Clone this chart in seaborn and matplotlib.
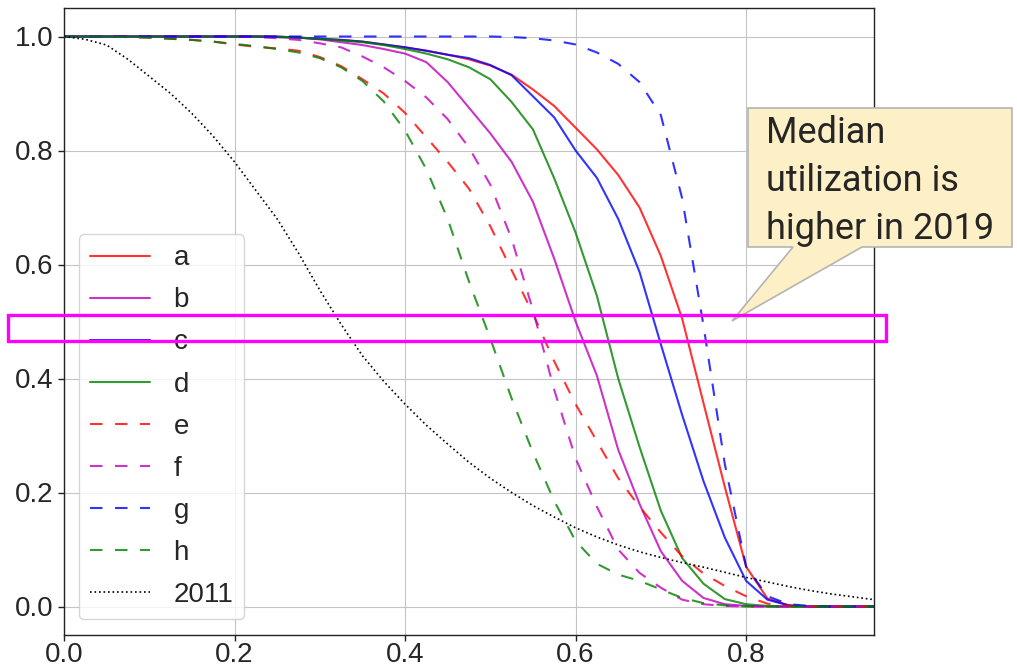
import numpy as np
import pandas as pd
import matplotlib
matplotlib.use("Agg")
import matplotlib.pyplot as plt
import seaborn as sns
from matplotlib.patches import Polygon, Rectangle

# utilization grid (x) and survival curves
util = [0.0, 0.025, 0.05, 0.075, 0.1, 0.125, 0.15, 0.175, 0.2, 0.225,
        0.25, 0.275, 0.3, 0.325, 0.35, 0.375, 0.4, 0.425, 0.45, 0.475,
        0.5, 0.525, 0.55, 0.575, 0.6, 0.625, 0.65, 0.675, 0.7, 0.725,
        0.75, 0.775, 0.8, 0.825, 0.85, 0.875, 0.9, 0.925, 0.95]

a = [1, 1, 1, 1, 1, 1, 1, 1, 1, 1,
     .999, .998, .996, .994, .991, .986, .981, .975, .968, .96,
     .949, .933, .907, .878, .84, .802, .757, .70, .615, .505,
     .357, .21, .07, .014, .002, 0, 0, 0, 0]
b = [1, 1, 1, 1, 1, 1, 1, 1, 1, 1,
     1, .998, .995, .99, .985, .978, .97, .955, .92, .875,
     .83, .78, .71, .61, .50, .405, .275, .18, .097, .045,
     .015, .004, .001, 0, 0, 0, 0, 0, 0]
c = [1, 1, 1, 1, 1, 1, 1, 1, 1, 1,
     .999, .998, .996, .994, .991, .986, .981, .975, .968, .962,
     .95, .932, .895, .858, .80, .752, .68, .587, .46, .336,
     .22, .121, .045, .012, .002, 0, 0, 0, 0]
d = [1, 1, 1, 1, 1, 1, 1, 1, 1, 1,
     1, .998, .996, .993, .99, .985, .978, .97, .96, .946,
     .925, .885, .837, .751, .656, .545, .40, .28, .168, .085,
     .04, .013, .004, .001, 0, 0, 0, 0, 0]
e = [1, 1, 1, .999, .998, .996, .994, .991, .986, .982,
     .979, .975, .964, .948, .925, .90, .866, .823, .78, .733,
     .667, .59, .514, .43, .355, .29, .225, .175, .13, .088,
     .058, .036, .018, .005, .001, 0, 0, 0, 0]
f = [1, 1, 1, 1, 1, 1, 1, 1, 1, .999,
     .997, .994, .988, .981, .965, .946, .922, .893, .855, .805,
     .74, .645, .52, .38, .26, .175, .10, .059, .033, .012,
     .004, .001, 0, 0, 0, 0, 0, 0, 0]
g = [1, 1, 1, 1, 1, 1, 1, 1, 1, 1,
     1, 1, 1, 1, 1, 1, 1, 1, 1, 1,
     1, .999, .997, .993, .986, .972, .952, .92, .862, .716,
     .493, .25, .07, .018, .004, .001, 0, 0, 0]
h = [1, 1, 1, .999, .998, .996, .994, .991, .987, .983,
     .978, .972, .962, .946, .922, .886, .835, .767, .68, .57,
     .47, .365, .27, .185, .115, .075, .056, .045, .03, .015,
     .006, .002, 0, 0, 0, 0, 0, 0, 0]
y2011 = [1, .995, .985, .96, .93, .9, .865, .825, .78, .73,
         .68, .62, .555, .495, .44, .395, .355, .318, .285, .253,
         .225, .2, .177, .157, .138, .122, .108, .096, .086, .077,
         .069, .06, .051, .043, .035, .028, .022, .017, .012]

names = ["a", "b", "c", "d", "e", "f", "g", "h", "2011"]
series = [a, b, c, d, e, f, g, h, y2011]
colors = ["r", "m", "b", "g", "r", "m", "b", "g", "k"]
dash = (0, (6, 6))
styles = ["-", "-", "-", "-", dash, dash, dash, dash, (0, (1, 1.7))]

sns.set_style("ticks", {"axes.grid": True, "grid.color": "#c4c4c4",
                        "axes.edgecolor": "#222222"})
plt.rcParams["font.family"] = ["Liberation Sans", "DejaVu Sans"]

fig = plt.figure(figsize=(10.17, 6.66), dpi=100)
ax = fig.add_axes([64 / 1017, 31 / 666, 810 / 1017, 627 / 666])

for name, ys, col, ls in zip(names, series, colors, styles):
    df = pd.DataFrame({"util": util, "frac": ys})
    lw = 1.2 if name == "2011" else 1.5
    sns.lineplot(data=df, x="util", y="frac", color=col, linestyle=ls,
                 lw=lw, alpha=0.8 if name != "2011" else 1.0,
                 label=name, ax=ax)

ax.set_xlim(0, 0.95)
ax.set_ylim(-0.05, 1.05)
ax.set_xticks([0.0, 0.2, 0.4, 0.6, 0.8])
ax.set_yticks([0.0, 0.2, 0.4, 0.6, 0.8, 1.0])
ax.set_xlabel("")
ax.set_ylabel("")
ax.tick_params(labelsize=20, length=4, width=1, color="#222222")
ax.tick_params(axis="x", pad=0.8)
for s in ax.spines.values():
    s.set_linewidth(1.0)
    s.set_visible(True)

ax.legend(loc="lower left", bbox_to_anchor=(0.0013, 0.003), fontsize=20,
          handlelength=2.15, handletextpad=0.85, labelspacing=0.58,
          borderpad=0.4, framealpha=0.8, edgecolor="#cccccc")

# callout box (figure pixel coords, origin top-left in reference)
W, H = 1017, 666
def fp(x, y):
    return (x / W, 1 - y / H)

callout = [fp(748, 108), fp(1012, 108), fp(1012, 247), fp(862, 247),
           fp(732, 321), fp(793, 247), fp(748, 247)]
fig.add_artist(Polygon(callout, closed=True, transform=fig.transFigure,
                       facecolor="#fdefc6", edgecolor="#b4b4b4", lw=1.2,
                       zorder=10))
fig.text(766 / W, 1 - 115 / H, "Median\nutilization is\nhigher in 2019",
         fontsize=26, family=["Roboto", "DejaVu Sans"], va="top", ha="left",
         linespacing=1.42, zorder=11)

# magenta highlight band
fig.add_artist(Rectangle(fp(8, 341), 878 / W, 26 / H,
                         transform=fig.transFigure, fill=False,
                         edgecolor="#ff00ff", lw=2.4, zorder=12))

fig.savefig("out.png", dpi=100)
